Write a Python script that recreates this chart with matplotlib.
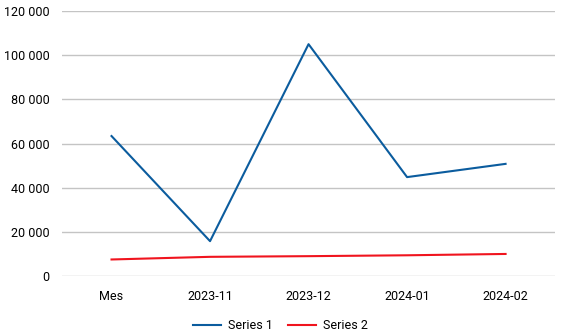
import matplotlib.pyplot as plt
from matplotlib.ticker import FuncFormatter

categories = ['Mes', '2023-11', '2023-12', '2024-01', '2024-02']
series1 = [63400, 15800, 105000, 44800, 50800]
series2 = [7500, 8700, 9000, 9400, 10000]

plt.rcParams['font.family'] = ['Roboto', 'DejaVu Sans']

fig = plt.figure(figsize=(5.61, 3.35), dpi=100)
ax = fig.add_axes([0.111, 0.176, 0.878, 0.791])

x = range(len(categories))
ax.plot(x, series1, color='#0b5c9e', linewidth=1.5, label='Series 1')
ax.plot(x, series2, color='#f0141e', linewidth=1.5, label='Series 2')

ax.set_xlim(-0.5, len(categories) - 0.5)
ax.set_ylim(0, 120000)
ax.set_yticks(range(0, 120001, 20000))
ax.yaxis.set_major_formatter(FuncFormatter(lambda v, p: f'{int(v):,}'.replace(',', ' ')))
ax.set_xticks(list(x))
ax.set_xticklabels(categories)

ax.grid(axis='y', color='#c4c4c4', linewidth=1)
ax.set_axisbelow(True)
for s in ax.spines.values():
    s.set_visible(False)
ax.tick_params(length=0, labelsize=9, colors='black')
ax.tick_params(axis='y', pad=9)
ax.tick_params(axis='x', pad=10)

fig.legend(loc='lower center', bbox_to_anchor=(0.5, -0.025), ncol=2, frameon=False,
           fontsize=9, handlelength=2.2, columnspacing=1.2, handletextpad=0.6)

fig.savefig('out.png', dpi=100)
